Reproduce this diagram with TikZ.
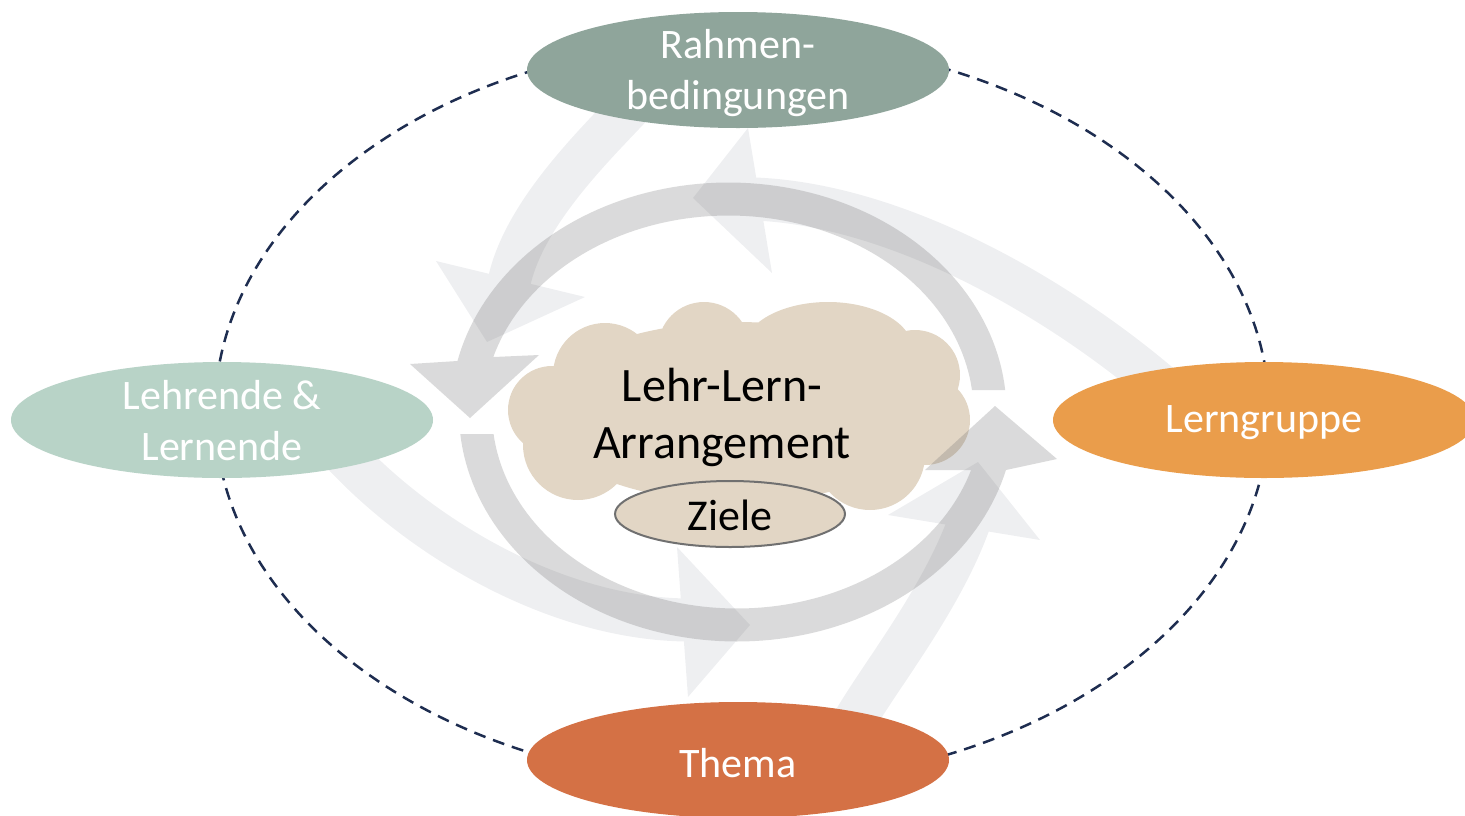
\documentclass[tikz,border=0pt]{standalone}
\usepackage{fontspec}
\setmainfont{Carlito}
\usetikzlibrary{shapes.geometric}

\definecolor{rahmenfill}{RGB}{143,165,155}
\definecolor{lehrendefill}{RGB}{184,211,199}
\definecolor{gruppefill}{RGB}{234,157,75}
\definecolor{themafill}{RGB}{212,113,69}
\definecolor{cloudfill}{RGB}{226,214,197}
\definecolor{zieleline}{RGB}{112,112,112}
\definecolor{lightarrow}{RGB}{238,239,241}
\definecolor{ringgray}{RGB}{98,98,100}
\definecolor{framedash}{RGB}{30,45,80}

\begin{document}
\begin{tikzpicture}[x=1pt,y=-1pt,
  nodeoval/.style={ellipse, minimum width=422pt, minimum height=116pt,
    inner sep=0pt},
  ovaltext/.style={text=white, align=center, inner sep=0pt,
    font=\fontsize{42}{51}\selectfont},
  lightshaft/.style={draw=lightarrow, line width=43pt},
  lighthead/.style={fill=lightarrow},
  ringarrow/.style={fill=ringgray, fill opacity=0.235},
  framestyle/.style={draw=framedash, line width=2.5pt,
    dash pattern=on 12pt off 8pt}]
\useasboundingbox (0,0) rectangle (1465,815);
\clip (0,0) rectangle (1465,815);

% dashed frame around the four factors
\draw[framestyle] (742,412) ellipse [x radius=527pt, y radius=372pt];

% outer cycle of light arrows
\draw[lightshaft] (632,105) .. controls (600,140) and (520,215) .. (508,288);
\fill[lighthead] (436,261) -- (487,342) -- (585,297) -- cycle;

\draw[lightshaft] (1160,385) .. controls (1060,300) and (900,205) .. (755,199);
\fill[lighthead] (748,128) -- (693,198) -- (772,273) -- cycle;

\draw[lightshaft] (335,445) .. controls (420,540) and (560,620) .. (690,620);
\fill[lighthead] (677,547) -- (750,625) -- (688,697) -- cycle;

\draw[lightshaft] (852,725) .. controls (877,680) and (942,600) .. (970,520);
\fill[lighthead] (888,515) -- (978,462) -- (1040,540) -- cycle;

% central cloud, built from overlapping puffs
\coordinate (cloud) at (737,412);
\fill[cloudfill]
  (737,412) ellipse [x radius=200pt, y radius=90pt]
  (552,410) circle [radius=44pt]
  (605,375) circle [radius=52pt]
  (704,348) circle [radius=46pt]
  (828,350) ellipse [x radius=85pt, y radius=48pt]
  (915,375) circle [radius=45pt]
  (925,420) circle [radius=45pt]
  (870,455) circle [radius=55pt]
  (740,462) circle [radius=60pt]
  (578,445) circle [radius=55pt];

% inner cycle of two circular arrows
\fill[ringarrow]
  plot[domain=-5.5:-167.16, samples=90]
    ({728.5+278*cos(\x)},{412+229.5*sin(\x)})
  -- (410,364) -- (470,418) -- (539,355)
  -- plot[domain=-163.75:-6.43, samples=90]
    ({728.5+245*cos(\x)},{412+196.5*sin(\x)})
  -- cycle;
\fill[ringarrow]
  plot[domain=174.5:14.64, samples=90]
    ({737+278*cos(\x)},{412+229.5*sin(\x)})
  -- (1057,459) -- (995,406) -- (925,470)
  -- plot[domain=17.17:173.57, samples=90]
    ({737+245*cos(\x)},{412+196.5*sin(\x)})
  -- cycle;

\node[align=center, inner sep=0pt, font=\fontsize{48}{57}\selectfont]
  (arr) at (722,417) {Lehr-Lern-\\Arrangement};
\node[ellipse, draw=zieleline, line width=2pt, fill=cloudfill,
  minimum width=230pt, minimum height=66pt, inner sep=0pt] (ziele) at (730,514) {};
\node[inner sep=0pt, font=\fontsize{44}{52}\selectfont] at (730,515) {Ziele};

% the four factors
\node[nodeoval, fill=rahmenfill] (rahmen) at (738,70) {};
\node[ovaltext] at (738,73) {Rahmen-\\bedingungen};
\node[nodeoval, fill=lehrendefill] (lehrende) at (222,420) {};
\node[ovaltext] at (222,421) {Lehrende \&\\Lernende};
\node[nodeoval, fill=gruppefill] (gruppe) at (1264,420) {};
\node[ovaltext] at (1264,423) {Lerngruppe};
\node[nodeoval, fill=themafill] (thema) at (738,760) {};
\node[ovaltext] at (738,763) {Thema};
\end{tikzpicture}
\end{document}
